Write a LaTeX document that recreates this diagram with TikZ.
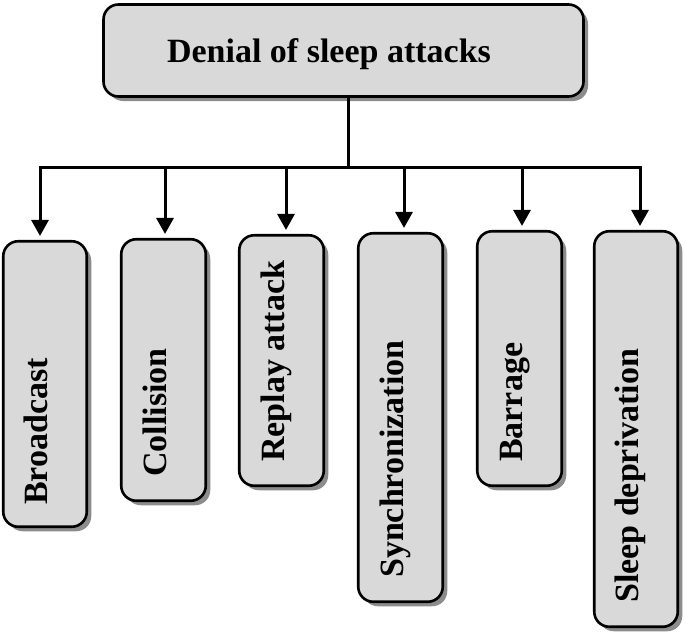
\documentclass[tikz,border=0pt]{standalone}
\usepackage{fontspec}
\setmainfont{Liberation Serif}
\usetikzlibrary{arrows.meta,shadows}

\begin{document}
\begin{tikzpicture}[x=1pt,y=-1pt,
  box/.style={draw=black,line width=2.6pt,fill=gray!30,rounded corners=15pt,inner sep=0pt,
    drop shadow={shadow xshift=4.5pt,shadow yshift=-4.5pt,fill=black!45,opacity=1}},
  lbl/.style={rotate=90,anchor=base west,inner sep=0pt,font=\fontsize{34}{40}\selectfont\bfseries},
  wire/.style={line width=3pt},
  arr/.style={line width=3pt,-{Triangle[width=17pt,length=16pt]},shorten >=4pt}]
\useasboundingbox (0,0) rectangle (685,634);
\node[box,minimum width=480pt,minimum height=92pt] (top) at (343.5,50.5) {};
\node[inner sep=0pt,anchor=base,font=\fontsize{34}{40}\selectfont\bfseries] (title) at (329,63) {Denial of sleep attacks};
\coordinate (bus) at (348,167);
\draw[wire] (top.south -| bus) -- (bus);
\node[box,minimum width=83.5pt,minimum height=285.5pt] (b1) at (45,384) {};
\node[box,minimum width=84.5pt,minimum height=261.5pt] (b2) at (163.5,370) {};
\node[box,minimum width=84.5pt,minimum height=250.5pt] (b3) at (281.5,360.5) {};
\node[box,minimum width=84.5pt,minimum height=368.5pt] (b4) at (400.5,417.5) {};
\node[box,minimum width=84.5pt,minimum height=254.5pt] (b5) at (519.5,358.5) {};
\node[box,minimum width=83.5pt,minimum height=395.5pt] (b6) at (636,429) {};
\node[lbl] (t1) at ([xshift=2.5pt,yshift=23pt]b1.south) {Broadcast};
\node[lbl] (t2) at ([xshift=2.5pt,yshift=25pt]b2.south) {Collision};
\node[lbl] (t3) at ([xshift=2.5pt,yshift=25pt]b3.south) {Replay attack};
\node[lbl] (t4) at ([xshift=2.5pt,yshift=25pt]b4.south) {Synchronization};
\node[lbl] (t5) at ([xshift=2.5pt,yshift=25pt]b5.south) {Barrage};
\node[lbl] (t6) at ([xshift=2.5pt,yshift=25pt]b6.south) {Sleep deprivation};
\draw[arr] (bus) -| ([xshift=-5pt]b1.north);
\draw[arr] (bus) -| ([xshift=1.5pt]b2.north);
\draw[arr] (bus) -| ([xshift=4.5pt]b3.north);
\draw[arr] (bus) -| ([xshift=3.5pt]b4.north);
\draw[arr] (bus) -| ([xshift=2.5pt]b5.north);
\draw[arr] (bus) -| ([xshift=4pt]b6.north);
\end{tikzpicture}
\end{document}
